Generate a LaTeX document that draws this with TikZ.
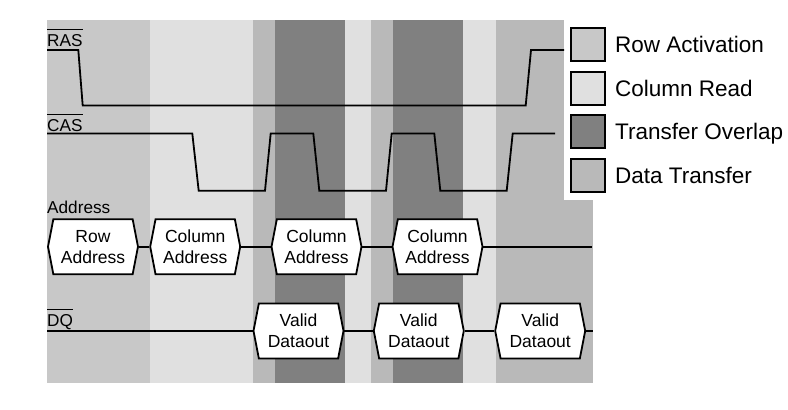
\documentclass[tikz,border=0pt]{standalone}
\usepackage{fontspec}
\setmainfont{Liberation Sans}
\usetikzlibrary{shapes.symbols}
\definecolor{rowact}{HTML}{C8C8C8}
\definecolor{colrd}{HTML}{E0E0E0}
\definecolor{overlapc}{HTML}{808080}
\definecolor{datatr}{HTML}{B9B9B9}
\begin{document}
\begin{tikzpicture}[x=1pt,y=-1pt,
  sig/.style={line width=1.8pt, line join=miter},
  hex/.style={signal, signal to=west and east, draw, fill=white, line width=1.8pt,
    minimum width=90pt, minimum height=55pt, inner sep=0pt, signal pointer angle=158,
    align=center, font=\fontsize{17.5}{21}\selectfont},
  lbl/.style={anchor=base west, inner sep=0pt, font=\fontsize{17.2}{21}\selectfont},
  ovl/.style={line width=0.9pt},
  legbox/.style={draw, line width=1.8pt, minimum width=34pt, minimum height=33pt, inner sep=0pt},
  legtxt/.style={anchor=base west, inner sep=0pt, font=\fontsize{22.5}{26}\selectfont}]
\useasboundingbox (0,0) rectangle (788,410);
\fill[white] (0,0) rectangle (788,410);
% bands
\fill[rowact]   (47,19.5) rectangle (150,382.7);
\fill[colrd]    (150,19.5) rectangle (253,382.7);
\fill[datatr]   (253,19.5) rectangle (275,382.7);
\fill[overlapc] (275,19.5) rectangle (345,382.7);
\fill[colrd]    (345,19.5) rectangle (371,382.7);
\fill[datatr]   (371,19.5) rectangle (393,382.7);
\fill[overlapc] (393,19.5) rectangle (463,382.7);
\fill[colrd]    (463,19.5) rectangle (496,382.7);
\fill[datatr]   (496,19.5) rectangle (592.7,382.7);
\fill[white]    (564,0) rectangle (788,199.5);
% labels
\node[lbl] (ras) at (47,46) {RAS};
\draw[ovl] ([yshift=4.5pt]ras.north west) -- ([yshift=4.5pt]ras.north east);
\node[lbl] (cas) at (47,131) {CAS};
\draw[ovl] ([yshift=4.5pt]cas.north west) -- ([yshift=4.5pt]cas.north east);
\node[lbl] (addr) at (47,213) {Address};
\node[lbl] (dq) at (47,326.5) {DQ};
\draw[ovl] ([yshift=4.5pt]dq.north west) -- ([yshift=4.5pt]dq.north east);
% RAS waveform
\draw[sig] (47,50) -- (78.3,50) -- (82.7,105.5) -- (525.7,105.5) -- (531,50) -- (564,50);
% CAS waveform
\draw[sig] (47,133.5) -- (192.3,133.5) -- (198.7,190.7) -- (265,190.7) -- (270.7,133.5)
  -- (313.3,133.5) -- (319.3,190.7) -- (386,190.7) -- (391.7,133.5)
  -- (434.3,133.5) -- (440.3,190.7) -- (506.7,190.7) -- (512.7,133.5) -- (555,133.5);
% Address bus
\node[hex] (a1) at (93,246.7) {Row\\Address};
\node[hex] (a2) at (195.2,246.7) {Column\\Address};
\node[hex] (a3) at (316.5,246.7) {Column\\Address};
\node[hex] (a4) at (437.5,246.7) {Column\\Address};
\coordinate (aend) at (591.7,246.7);
\draw[sig] (a1.east) -- (a2.west);
\draw[sig] (a2.east) -- (a3.west);
\draw[sig] (a3.east) -- (a4.west);
\draw[sig] (a4.east) -- (aend);
% DQ bus
\node[hex] (d1) at (298.5,330.9) {Valid\\Dataout};
\node[hex] (d2) at (418.8,330.9) {Valid\\Dataout};
\node[hex] (d3) at (540.2,330.9) {Valid\\Dataout};
\coordinate (dstart) at (47,330.9);
\coordinate (dend) at (592.5,330.9);
\draw[sig] (dstart) -- (d1.west);
\draw[sig] (d1.east) -- (d2.west);
\draw[sig] (d2.east) -- (d3.west);
\draw[sig] (d3.east) -- (dend);
% legend
\node[legbox, fill=rowact]   (l1) at (588,44.8) {};
\node[legbox, fill=colrd]    (l2) at (588,88.3) {};
\node[legbox, fill=overlapc] (l3) at (588,131.5) {};
\node[legbox, fill=datatr]   (l4) at (588,175.2) {};
\node[legtxt] (t1) at (615,52.5) {Row Activation};
\node[legtxt] (t2) at (615,96) {Column Read};
\node[legtxt] (t3) at (615,139.2) {Transfer Overlap};
\node[legtxt] (t4) at (615,183) {Data Transfer};
\end{tikzpicture}
\end{document}
